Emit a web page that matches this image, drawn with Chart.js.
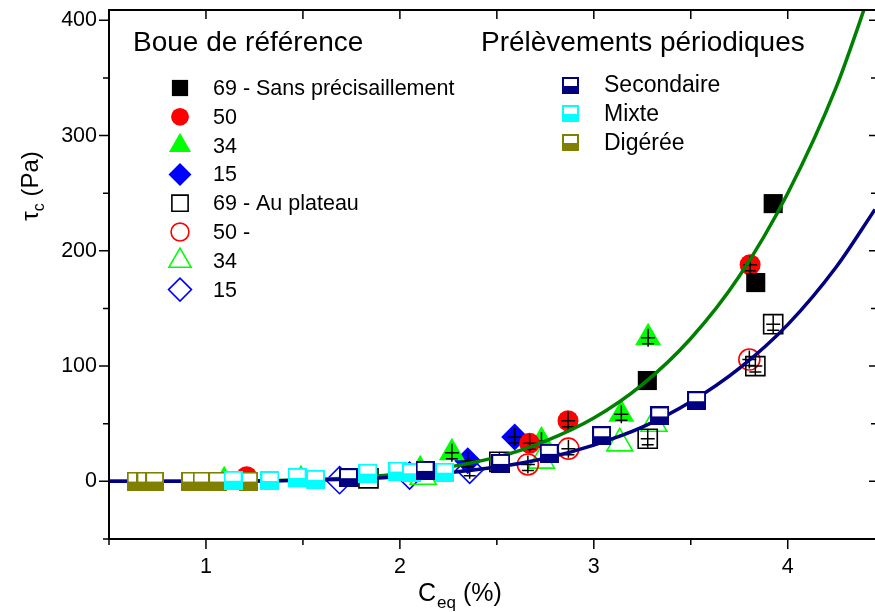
<!DOCTYPE html>
<html>
<head>
<meta charset="utf-8">
<script src="https://cdn.jsdelivr.net/npm/chart.js@4.4.1/dist/chart.umd.min.js"></script>
<style>
  html, body { margin: 0; padding: 0; background: #fff; }
  canvas { display: block; }
</style>
</head>
<body>
<canvas id="c" width="875" height="612"></canvas>
<script>
// ── DATA ──
const xMajor = [1, 2, 3, 4];
const xMinor = [0.5, 1.5, 2.5, 3.5];
const yMajor = [0, 100, 200, 300, 400];
const yMinor = [-50, 50, 150, 250, 350];

// Boue de référence – sans précisaillement (filled)
const sans69X = [3.925, 3.835, 3.276];
const sans69Y = [241, 172.5, 87.5];
const sans50X = [3.806, 2.867, 2.669, 1.21];
const sans50Y = [188, 52.6, 33, 4];
const sans34X = [3.28, 3.142, 2.73, 2.268, 2.105, 1.094, 1.49];
const sans34Y = [124.7, 58.2, 35, 24.9, 10, 0.5, 1.5];
const sans15X = [2.592, 2.35];
const sans15Y = [38.4, 18];

// Boue de référence – au plateau (open)
const plat69X = [3.925, 3.833, 3.278, 2.513, 1.838];
const plat69Y = [136.4, 100, 37, 17, 2.6];
const plat50X = [3.802, 2.869, 2.66];
const plat50Y = [105.7, 28.4, 14.7];
const plat34X = [3.31, 3.134, 2.73, 2.12];
const plat34Y = [50, 33, 18, 4];
const plat15X = [2.36, 2.05, 1.689];
const plat15Y = [10, 5, 1];

// Prélèvements périodiques
const secX = [1.735, 2.13, 2.52, 2.77, 3.04, 3.34, 3.53];
const secY = [3.2, 9.5, 15.6, 24.3, 39.6, 56.8, 70];
const mixX = [1.14, 1.33, 1.47, 1.565, 1.835, 1.99, 2.06, 2.23];
const mixY = [1, 0.8, 3.5, 1.8, 7.2, 9, 7.5, 8];
const digX = [0.64, 0.69, 0.735, 0.92, 0.98, 1.06, 1.22];
const digY = [0.3, 0.3, 0.3, 0.3, 0.3, 0.3, 0.3];

// fitted curves
const fitX   = [0.5, 1, 1.5, 2, 2.5, 2.75, 3, 3.25, 3.5, 3.75, 4, 4.25, 4.45];
const greenY = [0, 0.2, 1.4, 6.5, 21, 35, 55, 84, 124, 178, 250, 342, 437];
const navyY  = [0, 0.1, 0.9, 4, 12.4, 20, 31.5, 47, 69, 98, 136, 186, 236];

const refLabels = ['69 - Sans précisaillement', '50', '34', '15', '69 - Au plateau', '50 -', '34', '15'];
const perLabels = ['Secondaire', 'Mixte', 'Digérée'];

const FONT = '"Liberation Sans", Arial, sans-serif';
const zip = (xs, ys) => xs.map((x, i) => ({ x, y: ys[i] }));

// half filled square marker
function halfSquare(color, size) {
  const c = document.createElement('canvas');
  c.width = size; c.height = size;
  const g = c.getContext('2d');
  g.fillStyle = color;
  g.fillRect(0, 0, size, size);
  g.fillStyle = '#fff';
  g.fillRect(2, 2, size - 4, Math.round(size / 2) - 2);
  return c;
}

function marker(label, data, style, color, r, open, group, extra) {
  return Object.assign({
    label, data, group,
    pointStyle: style,
    pointRadius: r,
    pointBackgroundColor: open ? 'transparent' : color,
    pointBorderColor: color,
    pointBorderWidth: open ? 1.6 : 0,
    showLine: false,
    order: 5
  }, extra || {});
}

const datasets = [
  marker(refLabels[0], zip(sans69X, sans69Y), 'rect', '#000', 13.5, false, 'ref'),
  marker(refLabels[1], zip(sans50X, sans50Y), 'circle', '#ff0000', 10.5, false, 'ref', { cross: true }),
  marker(refLabels[2], zip(sans34X, sans34Y), 'triangle', '#00ff00', 15, false, 'ref', { cross: true }),
  marker(refLabels[3], zip(sans15X, sans15Y), 'rectRot', '#0000ff', 13.5, false, 'ref', { cross: true }),
  marker(refLabels[4], zip(plat69X, plat69Y), 'rect', '#000', 13.5, true, 'ref', { cross: true }),
  marker(refLabels[5], zip(plat50X, plat50Y), 'circle', '#ff0000', 10.5, true, 'ref', { cross: true }),
  marker(refLabels[6], zip(plat34X, plat34Y), 'triangle', '#00ff00', 15, true, 'ref'),
  marker(refLabels[7], zip(plat15X, plat15Y), 'rectRot', '#0000ff', 13.5, true, 'ref', { cross: true }),
  {
    label: 'fit sans', data: zip(fitX, greenY), showLine: true, pointRadius: 0,
    borderColor: '#008000', borderWidth: 3.5, cubicInterpolationMode: 'monotone', order: 3
  },
  {
    label: 'fit plateau', data: zip(fitX, navyY), showLine: true, pointRadius: 0,
    borderColor: '#000080', borderWidth: 3.5, cubicInterpolationMode: 'monotone', order: 2
  },
  marker(perLabels[0], zip(secX, secY), halfSquare('#000080', 19), '#000080', 10, false, 'per', { order: 1 }),
  marker(perLabels[1], zip(mixX, mixY), halfSquare('#00ffff', 19), '#00ffff', 10, false, 'per', { order: 1 }),
  marker(perLabels[2], zip(digX, digY), halfSquare('#808000', 19), '#808000', 10, false, 'per', { order: 1 })
];

// ── MARKER DRAWING (legend) ──
function drawMarker(ctx, ds, x, y, k) {
  const st = ds.pointStyle, r = ds.pointRadius * k;
  ctx.save();
  if (st instanceof HTMLCanvasElement) {
    const s = Math.round(st.width * k);
    const hs = halfSquare(ds.pointBorderColor, s);
    ctx.drawImage(hs, Math.round(x - s / 2), Math.round(y - s / 2));
    ctx.restore();
    return;
  }
  ctx.beginPath();
  if (st === 'rect') {
    const h = r * Math.SQRT1_2;
    ctx.rect(x - h, y - h, 2 * h, 2 * h);
  } else if (st === 'circle') {
    ctx.arc(x, y, r, 0, Math.PI * 2);
  } else if (st === 'triangle') {
    for (let i = 0; i < 3; i++) {
      const a = i * 2 * Math.PI / 3;
      const px = x + Math.sin(a) * r, py = y - Math.cos(a) * r;
      i ? ctx.lineTo(px, py) : ctx.moveTo(px, py);
    }
    ctx.closePath();
  } else if (st === 'rectRot') {
    ctx.moveTo(x - r, y); ctx.lineTo(x, y - r); ctx.lineTo(x + r, y); ctx.lineTo(x, y + r);
    ctx.closePath();
  }
  ctx.fillStyle = ds.pointBackgroundColor;
  ctx.fill();
  if (ds.pointBorderWidth > 0) {
    ctx.strokeStyle = ds.pointBorderColor;
    ctx.lineWidth = ds.pointBorderWidth;
    ctx.stroke();
  }
  ctx.restore();
}

// ── ERROR CROSSES ──
const crosses = {
  id: 'crosses',
  afterDatasetDraw(chart, args) {
    const ds = chart.data.datasets[args.index];
    if (!ds.cross) return;
    const ctx = chart.ctx;
    ctx.save();
    ctx.strokeStyle = '#000';
    ctx.lineWidth = 1.5;
    args.meta.data.forEach((p, i) => {
      if (ds.data[i].y < 10) return;
      ctx.beginPath();
      ctx.moveTo(p.x, p.y - 9); ctx.lineTo(p.x, p.y + 9);
      ctx.moveTo(p.x - 7, p.y); ctx.lineTo(p.x + 7, p.y);
      ctx.moveTo(p.x - 6, p.y + 6); ctx.lineTo(p.x + 6, p.y + 6);
      ctx.stroke();
    });
    ctx.restore();
  }
};

// ── FRAME, TICKS, TITLES, LEGEND ──
const decor = {
  id: 'decor',
  afterDraw(chart) {
    const { ctx, chartArea: a, scales: { x, y } } = chart;
    ctx.save();
    ctx.strokeStyle = '#000';
    ctx.lineWidth = 2;
    ctx.beginPath();
    ctx.moveTo(a.right, a.top); ctx.lineTo(a.left, a.top);
    ctx.lineTo(a.left, a.bottom); ctx.lineTo(a.right, a.bottom);
    ctx.stroke();

    ctx.lineWidth = 1.5;
    ctx.beginPath();
    const tick = (x0, y0, x1, y1) => { ctx.moveTo(x0, y0); ctx.lineTo(x1, y1); };
    xMajor.forEach(v => { const px = x.getPixelForValue(v); tick(px, a.bottom, px, a.bottom + 10); tick(px, a.top, px, a.top + 9); });
    xMinor.forEach(v => { const px = x.getPixelForValue(v); tick(px, a.bottom, px, a.bottom + 6); tick(px, a.top, px, a.top + 9); });
    yMajor.forEach(v => { const py = y.getPixelForValue(v); tick(a.left - 10, py, a.left, py); tick(a.right - 6, py, a.right, py); });
    yMinor.forEach(v => { const py = y.getPixelForValue(v); tick(a.left - 6, py, a.left, py); tick(a.right - 4, py, a.right, py); });
    ctx.stroke();

    // axis titles
    ctx.fillStyle = '#000';
    ctx.textBaseline = 'alphabetic';
    ctx.textAlign = 'left';
    let cx = 418;
    const by = 601;
    ctx.font = '25px ' + FONT;
    ctx.fillText('C', cx, by); cx += ctx.measureText('C').width;
    ctx.font = '17px ' + FONT;
    ctx.fillText('eq', cx + 1, by + 7); cx += ctx.measureText('eq').width + 1;
    ctx.font = '25px ' + FONT;
    ctx.fillText(' (%)', cx, by);

    ctx.save();
    ctx.translate(38, 186);
    ctx.rotate(-Math.PI / 2);
    ctx.font = '24px ' + FONT;
    const w1 = ctx.measureText('τ').width, w3 = ctx.measureText(' (Pa)').width;
    ctx.font = '16px ' + FONT;
    const w2 = ctx.measureText('c').width;
    let tx = -(w1 + w2 + w3) / 2;
    ctx.font = '24px ' + FONT;
    ctx.fillText('τ', tx, 0); tx += w1;
    ctx.font = '16px ' + FONT;
    ctx.fillText('c', tx, 6); tx += w2;
    ctx.font = '24px ' + FONT;
    ctx.fillText(' (Pa)', tx, 0);
    ctx.restore();

    // legends
    ctx.textBaseline = 'middle';
    ctx.font = '28px ' + FONT;
    ctx.fillText('Boue de référence', 133, 43);
    ctx.fillText('Prélèvements périodiques', 481, 43);

    const ref = chart.data.datasets.filter(d => d.group === 'ref');
    ctx.font = '21.5px ' + FONT;
    ref.forEach((d, i) => {
      const ry = 88 + i * 28.8;
      drawMarker(ctx, d, 180, ry, 0.85);
      ctx.fillStyle = '#000';
      ctx.fillText(d.label, 213, ry + 1);
    });
    const per = chart.data.datasets.filter(d => d.group === 'per');
    ctx.font = '23px ' + FONT;
    per.forEach((d, i) => {
      const ry = 85 + i * 28.8;
      drawMarker(ctx, d, 570, ry, 0.9);
      ctx.fillStyle = '#000';
      ctx.fillText(d.label, 604, ry + 1);
    });
    ctx.restore();
  }
};

const noPad = s => { s.paddingTop = 0; s.paddingBottom = 0; s.paddingLeft = 0; s.paddingRight = 0; };

new Chart(document.getElementById('c'), {
  type: 'scatter',
  data: { datasets },
  options: {
    responsive: false,
    animation: false,
    layout: { autoPadding: false, padding: { top: 10, right: 0, left: 0, bottom: 0 } },
    plugins: { legend: { display: false }, tooltip: { enabled: false } },
    scales: {
      x: {
        type: 'linear', min: 0.5, max: 4.45,
        afterBuildTicks: s => { s.ticks = xMajor.map(v => ({ value: v })); },
        afterFit: s => { s.height = 73; noPad(s); },
        grid: { display: false, drawTicks: false },
        border: { display: false },
        ticks: { color: '#000', padding: 15, autoSkip: false, maxRotation: 0, font: { family: FONT, size: 21.5 } }
      },
      y: {
        type: 'linear', min: -50, max: 409,
        afterBuildTicks: s => { s.ticks = yMajor.map(v => ({ value: v })); },
        afterFit: s => { s.width = 109; noPad(s); },
        grid: { display: false, drawTicks: false },
        border: { display: false },
        ticks: { color: '#000', padding: 12, autoSkip: false, font: { family: FONT, size: 21.5 } }
      }
    }
  },
  plugins: [crosses, decor]
});
</script>
</body>
</html>
